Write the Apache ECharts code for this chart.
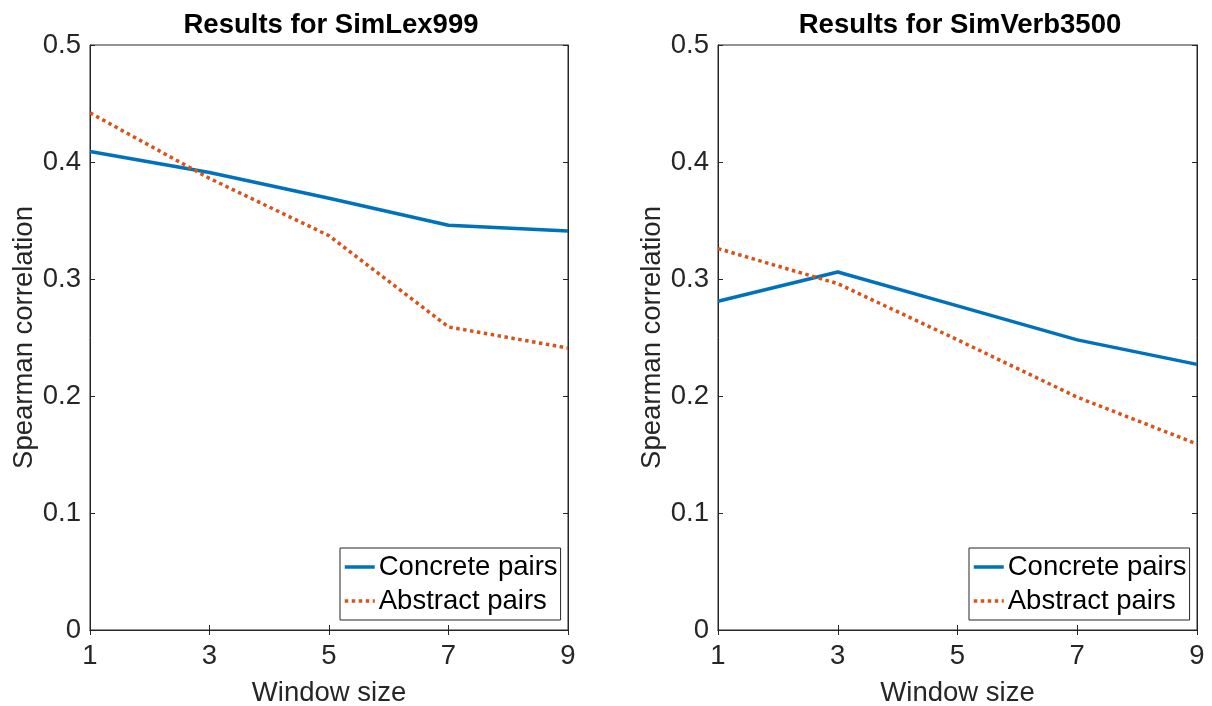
<!DOCTYPE html>
<html><head><meta charset="utf-8">
<script src="https://cdn.jsdelivr.net/npm/echarts@6/dist/echarts.min.js"></script>
<style>html,body{margin:0;padding:0;background:#fff}#c{width:1212px;height:706px}</style>
</head><body><div id="c"></div>
<script>
const windowSizes = [1, 3, 5, 7, 9];
const simlexConcrete = [0.409, 0.391, 0.369, 0.346, 0.341];
const simlexAbstract = [0.442, 0.386, 0.337, 0.259, 0.241];
const simverbConcrete = [0.281, 0.306, 0.277, 0.248, 0.227];
const simverbAbstract = [0.326, 0.296, 0.248, 0.199, 0.159];
const titles = ['Results for SimLex999', 'Results for SimVerb3500'];
const seriesNames = ['Concrete pairs', 'Abstract pairs'];

const FONT = '"Liberation Sans", Arial, Helvetica, sans-serif';
const AX = '#262626';
const BLUE = '#0072BD', ORANGE = '#D95319';

const grids = [
  {left: 90, right: 644, top: 45, bottom: 76, show: true, borderColor: AX, borderWidth: 1,
    backgroundColor: 'transparent', containLabel: false, outerBoundsMode: 'none'},
  {left: 718, right: 15, top: 45, bottom: 76, show: true, borderColor: AX, borderWidth: 1,
    backgroundColor: 'transparent', containLabel: false, outerBoundsMode: 'none'}
];
const xAxes = [], yAxes = [];
for (let g = 0; g < 2; g++) {
  const baseX = {type: 'value', gridIndex: g, min: 1, max: 9, interval: 2,
    axisLine: {show: true, lineStyle: {color: AX, width: 1}},
    axisTick: {show: true, inside: true, length: 5, lineStyle: {color: AX}},
    splitLine: {show: false}};
  xAxes.push(Object.assign({}, baseX, {position: 'bottom',
    axisLabel: {color: AX, fontSize: 27.5, fontFamily: FONT, margin: 12},
    name: 'Window size', nameLocation: 'middle', nameGap: 49,
    nameTextStyle: {color: AX, fontSize: 27.5, fontFamily: FONT}}));
  xAxes.push(Object.assign({}, baseX, {position: 'top', axisLabel: {show: false}}));
  const baseY = {type: 'value', gridIndex: g, min: 0, max: 0.5, interval: 0.1,
    axisLine: {show: true, lineStyle: {color: AX, width: 1}},
    axisTick: {show: true, inside: true, length: 5, lineStyle: {color: AX}},
    splitLine: {show: false}};
  yAxes.push(Object.assign({}, baseY, {position: 'left',
    axisLabel: {color: AX, fontSize: 27.5, fontFamily: FONT, margin: 9,
      formatter: v => (Math.round(v * 10) / 10).toString()},
    name: 'Spearman correlation', nameLocation: 'middle', nameGap: 52,
    nameTextStyle: {color: AX, fontSize: 27.5, fontFamily: FONT}}));
  yAxes.push(Object.assign({}, baseY, {position: 'right', axisLabel: {show: false}}));
}

function pairs(vals) { return windowSizes.map((x, i) => [x, vals[i]]); }
const data = [[simlexConcrete, simlexAbstract], [simverbConcrete, simverbAbstract]];
const series = [];
for (let g = 0; g < 2; g++) {
  series.push({name: seriesNames[0], type: 'line', xAxisIndex: g * 2, yAxisIndex: g * 2,
    data: pairs(data[g][0]), symbol: 'none', color: BLUE,
    lineStyle: {color: BLUE, width: 3.5, type: 'solid'}, animation: false});
  series.push({name: seriesNames[1], type: 'line', xAxisIndex: g * 2, yAxisIndex: g * 2,
    data: pairs(data[g][1]), symbol: 'none', color: ORANGE,
    lineStyle: {color: ORANGE, width: 3.5, type: [3.5, 3.5]}, animation: false});
}

const legendBase = {orient: 'vertical', top: 548, borderColor: AX, borderWidth: 1,
  padding: [5, 3, 5, 3], itemGap: 6, itemWidth: 30, itemHeight: 14,
  backgroundColor: '#fff', selectedMode: false,
  itemStyle: {opacity: 0},
  lineStyle: {width: 3.5},
  textStyle: {color: '#000', fontSize: 27.5, fontFamily: FONT, padding: [0, 0, 0, -1]},
  data: seriesNames};

const option = {
  animation: false,
  title: [
    {text: titles[0], left: 326, top: 6, textAlign: 'center',
      textStyle: {fontSize: 27.5, fontWeight: 'bold', color: '#000', fontFamily: FONT}},
    {text: titles[1], left: 955, top: 6, textAlign: 'center',
      textStyle: {fontSize: 27.5, fontWeight: 'bold', color: '#000', fontFamily: FONT}}
  ],
  grid: grids,
  xAxis: xAxes,
  yAxis: yAxes,
  legend: [
    Object.assign({}, legendBase, {left: 340}),
    Object.assign({}, legendBase, {left: 969})
  ],
  series: series
};
echarts.init(document.getElementById('c')).setOption(option);
</script></body></html>
